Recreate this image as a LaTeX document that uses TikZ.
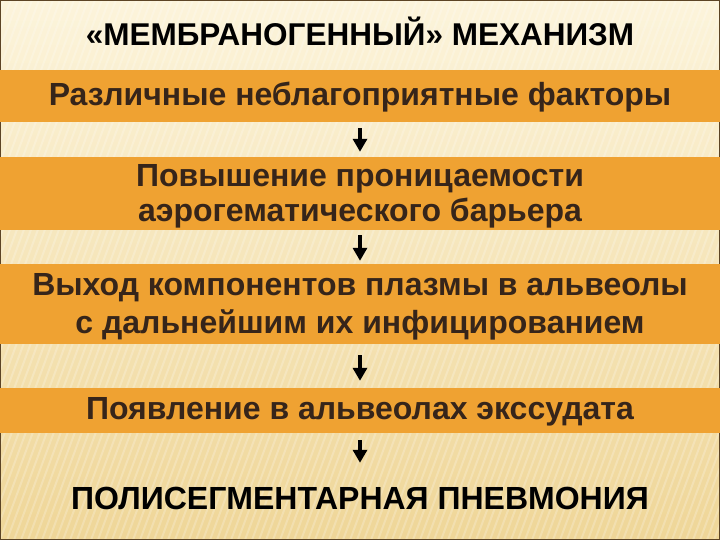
\documentclass[tikz,border=0pt]{standalone}
\usepackage{fontspec}
\setmainfont{Liberation Sans}
\usetikzlibrary{arrows.meta}
\definecolor{bgtop}{HTML}{FCF4DB}
\definecolor{bgbot}{HTML}{EFD698}
\definecolor{bandc}{HTML}{EFA232}
\definecolor{btext}{HTML}{36251A}
\definecolor{framec}{HTML}{5C4425}
\begin{document}
\begin{tikzpicture}[x=1pt,y=-1pt,
  bandbox/.style={fill=bandc, minimum width=720pt, inner sep=0pt},
  bandtext/.style={text=btext, inner sep=0pt, align=center},
  headtext/.style={text=black, inner sep=0pt, font=\bfseries\fontsize{31.5}{33}\selectfont},
  flow/.style={line width=4pt, draw=black, -{Triangle[width=14pt,length=13pt]}}]
\useasboundingbox (0,0) rectangle (720,540);
% background
\shade[top color=bgtop, bottom color=bgbot] (0,0) rectangle (720,540);
\begin{scope}
  \clip (0,0) rectangle (720,540);
  \foreach \i in {-40,...,110}
    \draw[white, opacity=0.22, line width=2pt] (\i*7,540) -- (\i*7+200,0);
\end{scope}
\draw[framec, line width=2pt] (0,0) rectangle (720,540);
% title
\node[headtext] (title) at (360,31) {«МЕМБРАНОГЕННЫЙ» МЕХАНИЗМ};
% bands
\node[bandbox, minimum height=52pt] (b1) at (360,96) {};
\node[bandbox, minimum height=73pt] (b2) at (360,193.5) {};
\node[bandbox, minimum height=80pt] (b3) at (360,304) {};
\node[bandbox, minimum height=45pt] (b4) at (360,410.5) {};
% band texts
\node[bandtext, font=\bfseries\fontsize{32}{34}\selectfont] (t1) at (360,97.5) {Различные неблагоприятные факторы};
\node[bandtext, font=\bfseries\fontsize{32}{35}\selectfont] (t2) at (360,196) {Повышение проницаемости\\аэрогематического барьера};
\node[bandtext, font=\bfseries\fontsize{32}{38}\selectfont] (t3) at (360,307) {Выход компонентов плазмы в альвеолы\\с дальнейшим их инфицированием};
\node[bandtext, font=\bfseries\fontsize{32}{34}\selectfont] (t4) at (360,412) {Появление в альвеолах экссудата};
% result
\node[headtext, minimum height=60pt, font=\bfseries\fontsize{32}{34}\selectfont] (res) at (360,498) {ПОЛИСЕГМЕНТАРНАЯ ПНЕВМОНИЯ};
% arrows
\draw[flow, shorten <=6pt, shorten >=5pt] (b1) -- (b2);
\draw[flow, shorten <=5pt, shorten >=3pt] (b2) -- (b3);
\draw[flow, shorten <=11pt, shorten >=7pt] (b3) -- (b4);
\draw[flow, shorten <=7pt, shorten >=5pt] (b4) -- (res);
\end{tikzpicture}
\end{document}
